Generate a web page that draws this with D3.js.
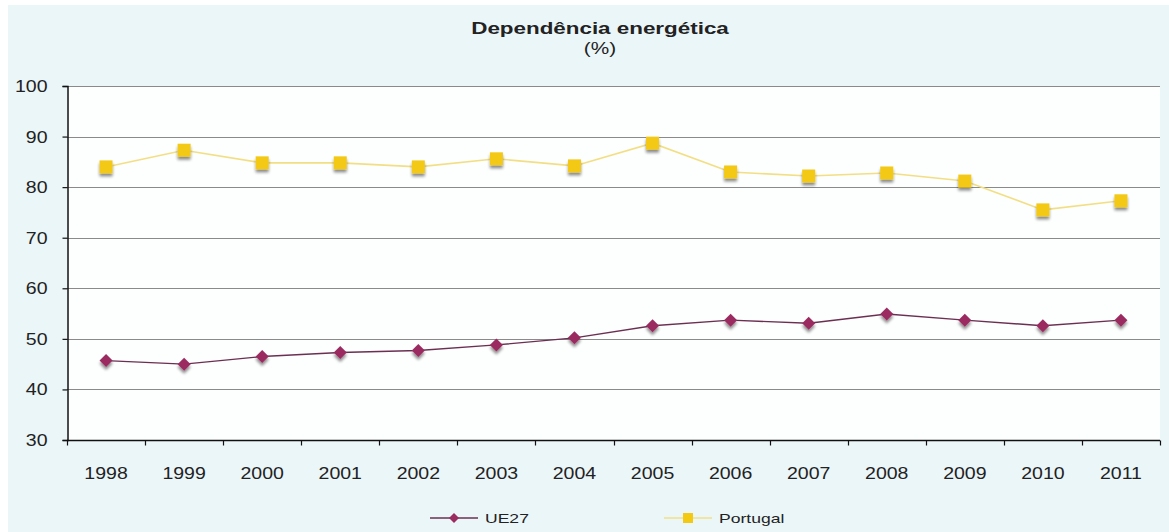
<!DOCTYPE html>
<html>
<head>
<meta charset="utf-8">
<script src="https://cdn.jsdelivr.net/npm/d3@7"></script>
<style>
  html, body { margin: 0; padding: 0; background: #ffffff; }
  svg { display: block; }
  text { font-family: "Liberation Sans", Arial, sans-serif; fill: #222; }
</style>
</head>
<body>
<svg id="chart" width="1169" height="532"></svg>
<script>
// Energy dependence (%), 1998–2011
const years = ["1998","1999","2000","2001","2002","2003","2004","2005","2006","2007","2008","2009","2010","2011"];
const ue27 = [45.7, 45.0, 46.5, 47.3, 47.7, 48.8, 50.2, 52.6, 53.7, 53.1, 54.9, 53.7, 52.6, 53.7];
const portugal = [84.0, 87.3, 84.8, 84.8, 84.0, 85.6, 84.2, 88.7, 83.0, 82.2, 82.8, 81.2, 75.5, 77.3];
const yTicks = [30, 40, 50, 60, 70, 80, 90, 100];
const seriesNames = ["UE27", "Portugal"];
const titleText = "Dependência energética";
const subtitleText = "(%)";

const W = 1169, H = 532;
const margin = { left: 67, right: 9, top: 86, bottom: 92 };
const svg = d3.select("#chart");

// soft drop shadow used under the markers
const defs = svg.append("defs");
const f = defs.append("filter").attr("id", "shadow").attr("x", "-50%").attr("y", "-50%").attr("width", "200%").attr("height", "200%");
f.append("feGaussianBlur").attr("in", "SourceAlpha").attr("stdDeviation", 1.6).attr("result", "b");
f.append("feOffset").attr("in", "b").attr("dx", 0).attr("dy", 3).attr("result", "o");
f.append("feComponentTransfer").attr("in", "o").attr("result", "oa")
  .append("feFuncA").attr("type", "linear").attr("slope", 0.45);
const fm = f.append("feMerge");
fm.append("feMergeNode").attr("in", "oa");
fm.append("feMergeNode").attr("in", "SourceGraphic");

// chart background
svg.append("rect").attr("x", 8).attr("y", 5).attr("width", W - 8).attr("height", H - 5).attr("fill", "#ebf6f9");

const x = d3.scaleBand().domain(years).range([margin.left, W - margin.right]).padding(0);
const y = d3.scaleLinear().domain([30, 100]).range([H - margin.bottom, margin.top]);

// plot area
svg.append("rect")
  .attr("x", margin.left).attr("y", margin.top)
  .attr("width", W - margin.right - margin.left).attr("height", y(30) - y(100))
  .attr("fill", "#fdfefe");

// horizontal gridlines
svg.append("g").selectAll("line").data(yTicks.filter(d => d > 30)).join("line")
  .attr("x1", margin.left).attr("x2", W - margin.right)
  .attr("y1", d => Math.round(y(d)) + 0.5).attr("y2", d => Math.round(y(d)) + 0.5)
  .attr("stroke", "#8a8a8a").attr("stroke-width", 1.2);

// horizontally widened text helper
function stretchText(sel, sx) {
  sel.each(function () {
    const t = d3.select(this);
    const tx = +t.attr("x") || 0, ty = +t.attr("y") || 0;
    t.attr("x", 0).attr("y", 0).attr("transform", `translate(${tx},${ty}) scale(${sx},1)`);
  });
}

// y axis
const yAxis = svg.append("g").attr("transform", `translate(${margin.left + 0.5},0)`)
  .call(d3.axisLeft(y).tickValues(yTicks).tickSize(5).tickPadding(6).tickFormat(d3.format("d")));
yAxis.select(".domain").attr("stroke", "#111").attr("stroke-width", 1.5);
yAxis.selectAll(".tick line").attr("stroke", "#111").attr("stroke-width", 1.2);
yAxis.selectAll(".tick text")
  .style("font-family", "'Liberation Sans', Arial, sans-serif").style("font-size", "16px").attr("fill", "#2a2a2a")
  .each(function () {
    const t = d3.select(this);
    t.attr("transform", "scale(1.22,1)").attr("x", -20 / 1.22).attr("dy", "0.34em");
  });

// x axis with ticks at category boundaries
const xAxisY = Math.round(y(30)) + 0.5;
const xg = svg.append("g");
xg.append("line").attr("x1", margin.left).attr("x2", W - margin.right)
  .attr("y1", xAxisY).attr("y2", xAxisY).attr("stroke", "#111").attr("stroke-width", 1.5);
const bounds = years.map(d => x(d)).concat([x(years[years.length - 1]) + x.bandwidth()]);
xg.selectAll("line.tk").data(bounds).join("line").attr("class", "tk")
  .attr("x1", d => Math.round(d) + 0.5).attr("x2", d => Math.round(d) + 0.5)
  .attr("y1", xAxisY).attr("y2", xAxisY + 5).attr("stroke", "#111").attr("stroke-width", 1.2);
xg.selectAll("text").data(years).join("text")
  .attr("x", d => x(d) + x.bandwidth() / 2).attr("y", 479)
  .attr("text-anchor", "middle").style("font-size", "16px").attr("fill", "#2a2a2a")
  .text(d => d)
  .call(stretchText, 1.22);

const cx = d => x(d) + x.bandwidth() / 2;
const line = d3.line().x((d, i) => cx(years[i])).y(d => y(d));

// Portugal series
svg.append("path").datum(portugal).attr("d", line)
  .attr("fill", "none").attr("stroke", "#f2df84").attr("stroke-width", 1.6);
svg.append("g").attr("filter", "url(#shadow)").selectAll("rect").data(portugal).join("rect")
  .attr("x", (d, i) => cx(years[i]) - 6.5).attr("y", d => y(d) - 6.5)
  .attr("width", 13).attr("height", 13).attr("fill", "#f3c913");

// UE27 series
svg.append("path").datum(ue27).attr("d", line)
  .attr("fill", "none").attr("stroke", "#6b2f52").attr("stroke-width", 1.4);
// diamond marker: square turned 45°
const diamondPath = r => `M0,${-r}L${r},0L0,${r}L${-r},0Z`;
svg.append("g").attr("filter", "url(#shadow)").selectAll("path").data(ue27).join("path")
  .attr("transform", (d, i) => `translate(${cx(years[i])},${y(d)})`)
  .attr("d", diamondPath(6.5)).attr("fill", "#9a2c60");

// title
svg.append("text").attr("x", 600).attr("y", 34).attr("text-anchor", "middle")
  .style("font-size", "16px").style("font-weight", "bold").attr("fill", "#1e1e1e")
  .text(titleText).call(stretchText, 1.4);
svg.append("text").attr("x", 600).attr("y", 54).attr("text-anchor", "middle")
  .style("font-size", "16px").attr("fill", "#2a2a2a")
  .text(subtitleText).call(stretchText, 1.3);

// legend
const legendY = 518;
const legendItems = [
  { name: seriesNames[0], x0: 430, color: "#6b2f52", marker: "diamond", mcolor: "#9a2c60" },
  { name: seriesNames[1], x0: 664, color: "#f2df84", marker: "square", mcolor: "#f3c913" }
];
const lg = svg.append("g");
legendItems.forEach(it => {
  lg.append("line").attr("x1", it.x0).attr("x2", it.x0 + 48).attr("y1", legendY).attr("y2", legendY)
    .attr("stroke", it.color).attr("stroke-width", 1.6);
  if (it.marker === "diamond") {
    lg.append("path").attr("transform", `translate(${it.x0 + 24},${legendY})`)
      .attr("d", diamondPath(5)).attr("fill", it.mcolor);
  } else {
    lg.append("rect").attr("x", it.x0 + 24 - 5).attr("y", legendY - 5).attr("width", 10).attr("height", 10)
      .attr("fill", it.mcolor);
  }
  lg.append("text").attr("x", it.x0 + 55).attr("y", legendY + 5).style("font-size", "13px").attr("fill", "#2a2a2a")
    .text(it.name).call(stretchText, 1.35);
});
</script>
</body>
</html>
